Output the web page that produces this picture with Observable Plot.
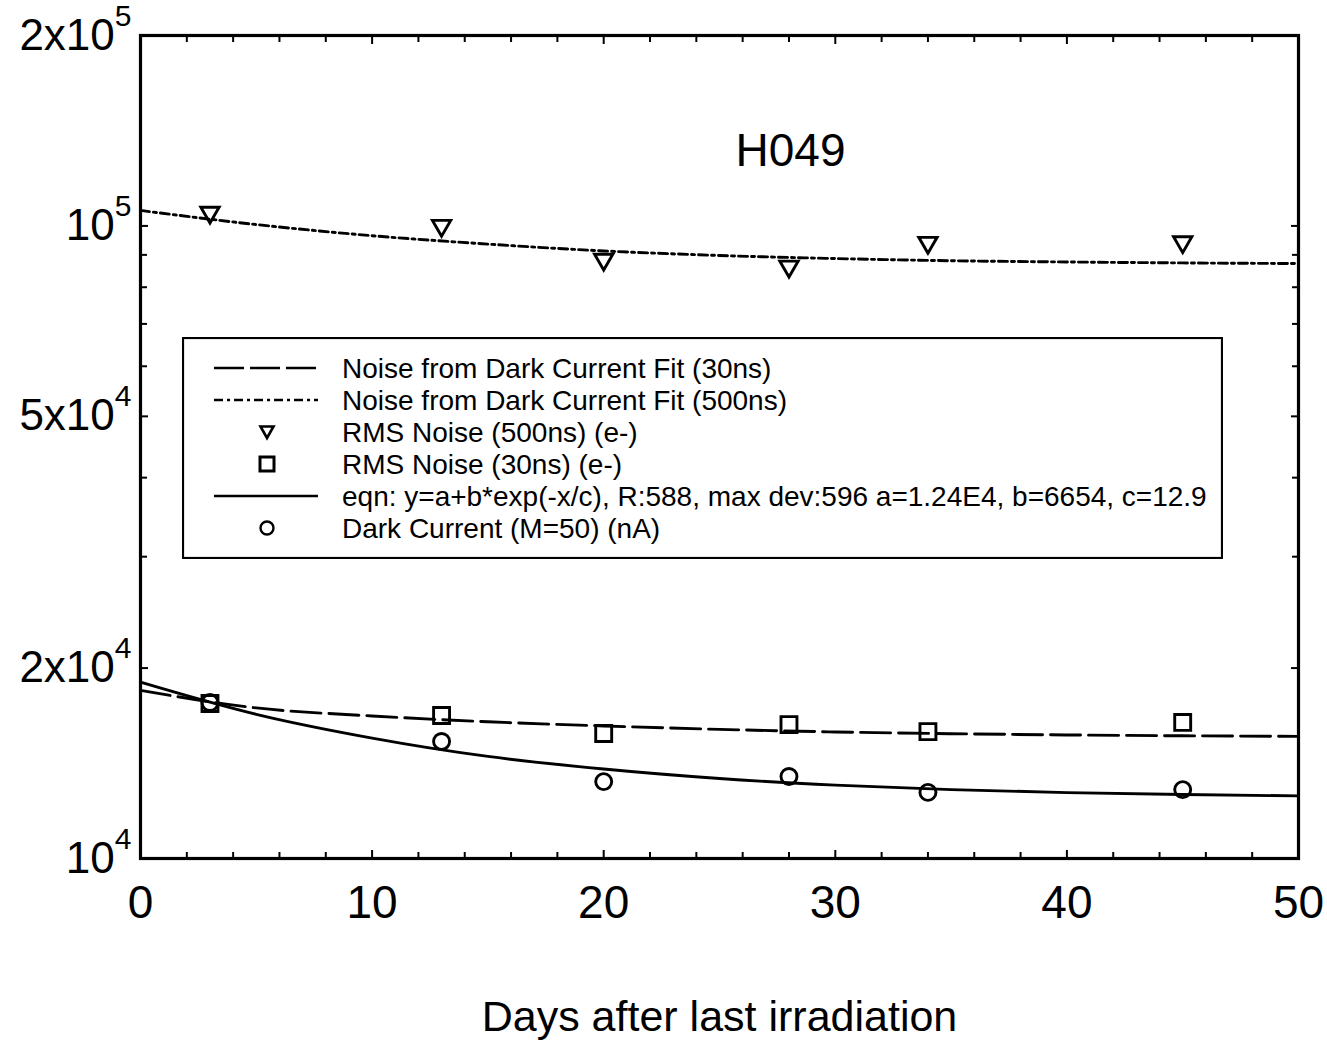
<!DOCTYPE html>
<html><head><meta charset="utf-8">
<script src="https://cdn.jsdelivr.net/npm/d3@7"></script>
<script src="https://cdn.jsdelivr.net/npm/@observablehq/plot@0.6"></script>
<style>
body{margin:0;background:#fff;}
#wrap{position:relative;width:1327px;height:1043px;background:#fff;}
#legend{position:absolute;left:182px;top:337px;}
</style></head><body><div id="wrap"></div>
<script>
// ---- data ----
const days = [3, 13, 20, 28, 34, 45];
const rms500 = [105000, 100100, 88500, 86300, 94100, 94300];
const rms30 = [17580, 16830, 15760, 16280, 15870, 16410];
const darkCurrent = [17640, 15310, 13230, 13480, 12720, 12850];

const fitDays = [0, 5, 10, 15, 20, 25, 30, 35, 40, 45, 50];
const fit500 = [105800, 100500, 96500, 93600, 91300, 89800, 88800, 88100, 87700, 87400, 87200];
const fit30 = [18440, 17300, 16800, 16450, 16200, 16000, 15850, 15750, 15680, 15630, 15600];
const fitDark = [19000, 16900, 15500, 14500, 13850, 13380, 13060, 12850, 12710, 12620, 12560];

const xMajorTicks = [0, 10, 20, 30, 40, 50];
const xMinorTicks = [2, 4, 6, 8, 12, 14, 16, 18, 22, 24, 26, 28, 32, 34, 36, 38, 42, 44, 46, 48];
const yLabelTicks = [1e4, 2e4, 5e4, 1e5, 2e5];
const yLabels = ["10^4", "2x10^4", "5x10^4", "10^5", "2x10^5"];
const yMinorTicks = [3e4, 4e4, 6e4, 7e4, 8e4, 9e4];

const titleText = "H049";
const xTitle = "Days after last irradiation";
const legendLabels = [
  "Noise from Dark Current Fit (30ns)",
  "Noise from Dark Current Fit (500ns)",
  "RMS Noise (500ns) (e-)",
  "RMS Noise (30ns) (e-)",
  "eqn: y=a+b*exp(-x/c), R:588, max dev:596 a=1.24E4, b=6654, c=12.9",
  "Dark Current (M=50) (nA)"
];

// ---- build tables ----
const pts = (ys) => days.map((d, i) => ({x: d, y: ys[i]}));
const fit = (ys) => fitDays.map((d, i) => ({x: d, y: ys[i]}));

const FONT = "'Liberation Sans', Arial, Helvetica, sans-serif";
const LW = 2.9;
const blank = () => "";

const chart = Plot.plot({
  width: 1327,
  height: 1043,
  marginLeft: 140,
  marginRight: 29,
  marginTop: 35,
  marginBottom: 185,
  style: {fontFamily: FONT, background: "white", color: "black", overflow: "visible"},
  x: {domain: [0, 50], label: null},
  y: {type: "log", domain: [1e4, 2e5], label: null},
  marks: [
    // fits
    Plot.line(fit(fit500), {x: "x", y: "y", stroke: "black", strokeWidth: LW, strokeDasharray: "9,4,3,4", curve: "monotone-x"}),
    Plot.line(fit(fit30), {x: "x", y: "y", stroke: "black", strokeWidth: LW, strokeDasharray: "30,8", curve: "monotone-x"}),
    Plot.line(fit(fitDark), {x: "x", y: "y", stroke: "black", strokeWidth: LW, curve: "monotone-x"}),
    // markers
    Plot.dot(pts(rms500), {x: "x", y: "y", symbol: "triangle", rotate: 180, r: 6.8, stroke: "black", strokeWidth: LW, fill: "none"}),
    Plot.dot(pts(rms30), {x: "x", y: "y", symbol: "square", r: 9, stroke: "black", strokeWidth: LW, fill: "none"}),
    Plot.dot(pts(darkCurrent), {x: "x", y: "y", symbol: "circle", r: 8, stroke: "black", strokeWidth: LW, fill: "none"}),
    // ticks (inward)
    Plot.axisX({ticks: xMinorTicks, tickSize: -6, tickFormat: blank, fill: "none", strokeWidth: 2, anchor: "bottom", label: null}),
    Plot.axisX({ticks: xMinorTicks, tickSize: -6, tickFormat: blank, fill: "none", strokeWidth: 2, anchor: "top", label: null}),
    Plot.axisX({ticks: xMajorTicks, tickSize: -8, tickFormat: blank, fill: "none", strokeWidth: 2, anchor: "top", label: null}),
    Plot.axisX({ticks: xMajorTicks, tickSize: -8, strokeWidth: 2, anchor: "bottom", tickPadding: 35, fontSize: 46, tickFormat: d => String(d), label: null}),
    Plot.axisY({ticks: yMinorTicks, tickSize: -7, tickFormat: blank, fill: "none", strokeWidth: 2, anchor: "left", label: null}),
    Plot.axisY({ticks: yMinorTicks, tickSize: -7, tickFormat: blank, fill: "none", strokeWidth: 2, anchor: "right", label: null}),
    Plot.axisY({ticks: yLabelTicks, tickSize: -8, tickFormat: blank, fill: "none", strokeWidth: 2, anchor: "right", label: null}),
    Plot.axisY({ticks: yLabelTicks, tickSize: -8, strokeWidth: 2, anchor: "left", tickPadding: 17, fontSize: 44,
      tickFormat: d => yLabels[yLabelTicks.indexOf(d)], label: null}),
    Plot.frame({stroke: "black", strokeWidth: 3.2}),
    // texts
    Plot.text([titleText], {text: d => d, frameAnchor: "top", dx: 71, dy: 98, fontSize: 46}),
    Plot.text([xTitle], {text: d => d, frameAnchor: "bottom", dy: 172, fontSize: 43})
  ]
});

// superscripts for the y tick labels
d3.select(chart).selectAll("g[aria-label='y-axis tick label'] text").each(function () {
  const t = this.textContent;
  if (!t) return;
  const [base, exp] = t.split("^");
  const sel = d3.select(this);
  sel.text(null);
  sel.append("tspan").text(base);
  if (exp !== undefined) sel.append("tspan").attr("dy", -24).attr("font-size", 30).text(exp);
});

const wrap = document.getElementById("wrap");
wrap.appendChild(chart);

// ---- legend box ----
const LWd = 1041, LHt = 222;
const leg = d3.select(wrap).append("svg").attr("id", "legend")
  .attr("width", LWd).attr("height", LHt)
  .style("font-family", FONT);
leg.append("rect").attr("x", 1).attr("y", 1).attr("width", LWd - 2).attr("height", LHt - 2)
  .attr("fill", "white").attr("stroke", "black").attr("stroke-width", 2.2);
const rowY = (i) => 31 + i * 32;
const sampleKinds = ["dash", "dashdot", "tri", "sq", "solid", "circ"];
sampleKinds.forEach((k, i) => {
  const y = rowY(i);
  const g = leg.append("g");
  if (k === "dash" || k === "dashdot" || k === "solid") {
    const l = g.append("line").attr("x1", 32).attr("x2", 136).attr("y1", y).attr("y2", y)
      .attr("stroke", "black").attr("stroke-width", 2.4);
    if (k === "dash") l.attr("stroke-dasharray", "30,6");
    if (k === "dashdot") l.attr("stroke-dasharray", "9,4,3,4");
  } else if (k === "tri") {
    g.append("path").attr("d", `M${85 - 6.5},${y - 5.5}L${85 + 6.5},${y - 5.5}L85,${y + 6}Z`)
      .attr("fill", "none").attr("stroke", "black").attr("stroke-width", 2.6);
  } else if (k === "sq") {
    g.append("rect").attr("x", 85 - 7).attr("y", y - 7).attr("width", 14).attr("height", 14)
      .attr("fill", "none").attr("stroke", "black").attr("stroke-width", 3);
  } else if (k === "circ") {
    g.append("circle").attr("cx", 85).attr("cy", y).attr("r", 6.5)
      .attr("fill", "none").attr("stroke", "black").attr("stroke-width", 2.4);
  }
  leg.append("text").attr("x", 160).attr("y", y).attr("dy", "0.35em")
    .attr("font-size", 28).attr("fill", "black").text(legendLabels[i]);
});
</script></body></html>
